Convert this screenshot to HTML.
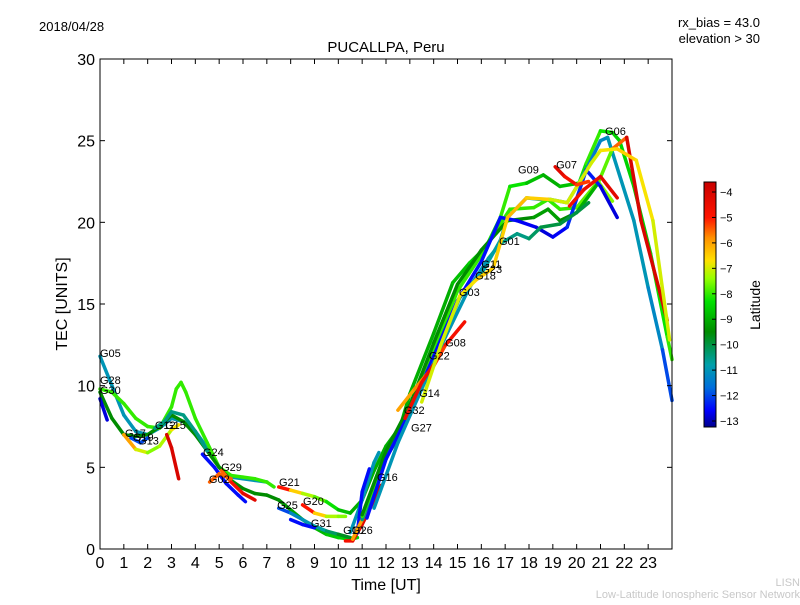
<!DOCTYPE html>
<html><head><meta charset="utf-8"><style>
body{margin:0;background:#fff;width:800px;height:600px;overflow:hidden;font-family:"Liberation Sans",sans-serif}
</style></head><body>
<svg id="chart" width="800" height="600" xmlns="http://www.w3.org/2000/svg" font-family="Liberation Sans, sans-serif">
<defs><linearGradient id="jet" x1="0" y1="1" x2="0" y2="0"></linearGradient></defs>
<text x="39" y="31" font-size="13">2018/04/28</text>
<text x="760" y="27" font-size="13" text-anchor="end">rx_bias = 43.0</text>
<text x="760" y="43" font-size="13" text-anchor="end">elevation &gt; 30</text>
<text x="386" y="52" font-size="15" text-anchor="middle">PUCALLPA, Peru</text>
<g id="tracks"></g>
<g id="labels" font-size="11"></g>
<rect x="100" y="59" width="572" height="490" fill="none" stroke="#000" stroke-width="1"/>
<g id="axes"></g>
<text x="386" y="590" font-size="16" text-anchor="middle">Time [UT]</text>
<text transform="translate(67,304) rotate(-90)" font-size="16" text-anchor="middle">TEC [UNITS]</text>
<rect x="704" y="182" width="12" height="245" fill="url(#jet)" stroke="#000" stroke-width="1"/>
<g id="cbticks" font-size="11"></g>
<text transform="translate(760,305) rotate(-90)" font-size="14" text-anchor="middle">Latitude</text>
<text x="800" y="586" font-size="11" fill="#c8c8c8" text-anchor="end">LISN</text>
<text x="800" y="598" font-size="11" fill="#c8c8c8" text-anchor="end">Low-Latitude Ionospheric Sensor Network</text>
</svg>
<script>
const xTicks=[0,1,2,3,4,5,6,7,8,9,10,11,12,13,14,15,16,17,18,19,20,21,22,23];
const yTicks=[0,5,10,15,20,25,30];
const cbTicks=[-4,-5,-6,-7,-8,-9,-10,-11,-12,-13];
const trackTimes=[
[0,0.5,1,1.5,2,2.5,3,3.5,4,4.5,5,5.5,6,6.5,7],
[0,0.5,1,1.5,2,2.5,3,3.2,3.4,3.6,4,4.5,5,5.5,6,6.5,7,7.3],
[0,0.5,1,1.5,2,2.5,3,3.5,4,4.5,5,5.5,6,6.5,7,7.5,8,8.5,9,9.5,10,10.5,10.8],
[0,0.3],
[1,1.5,2,2.5,3,3.3],
[1.3,1.7,2.0],
[2.3,2.7,3.0,3.5,4,4.5],
[2.8,3.0,3.3],
[4.3,4.8,5.3,5.8,6.1],
[5.1,5.5,6,6.5],
[4.6,5.0,5.5],
[7.5,8,8.5,9,9.5,10,10.5,11,11.5,12,12.6,13,14,14.8,15.5,16.2,16.8,17.2,17.9,18.6,19.3,20.1,20.4,21,21.5,21.8,22.4,23.1,23.8,24],
[8.5,9,9.5,10,10.3],
[7.5,8,8.5,9,9.5,10,10.5],
[8,8.5,9],
[10.3,10.6,11,11.5,11.8],
[10.5,11,11.5,11.7],
[10.8,11,11.3],
[10.6,11,11.5],
[11,12,12.6,13,14,15.1,16.1,16.8,17.1,17.9,18.5,18.9,19.6,20.1,20.5,21,21.3,22.4,23,23.6,24],
[11,12,13,14,15,16,16.8,17.2,18.2,18.8,19.3,20,20.9,21.5],
[11,12,13,14,15,16,17.1,18.2,18.8,19.3,20,20.9,21.5,22.1,22.7,23.8],
[11.2,12,13,14,15,16,16.8,17.5,18.3,19,19.6,20.4,21,21.7],
[11.5,12.5,13.5,14.5,15.5,16.3,16.8,17.5,18,18.5,19.3,20,20.5],
[12.5,13.2,14,14.5,15.3],
[12.8,13.5,14],
[13.5,14.3,15.1,15.8,16.5,17.1,17.9,18.9,19.6,20.1,20.6,21,21.7,22.5,23.2,23.9],
[19.1,19.5,20,20.5],
[19.7,20.3,21,21.7]
];
const trackTec=[
[11.8,10,8.2,7.2,7.0,7.4,8.0,7.8,7.2,6.2,5.0,4.4,4.3,4.2,4.1],
[9.8,9.6,8.9,8.0,7.5,7.4,8.7,9.8,10.2,9.6,8.0,6.5,5.0,4.5,4.4,4.3,4.1,3.8],
[9.6,8.0,7.0,6.9,7.0,7.5,8.2,7.8,7.0,6.0,5.0,4.2,3.7,3.4,3.3,3.0,2.4,1.8,1.3,0.9,0.7,0.6,0.7],
[9.2,7.9],
[7.0,6.1,5.9,6.3,7.3,7.6],
[6.8,6.5,6.8],
[7.4,7.8,8.4,8.2,7.2,6.0],
[7.0,6.2,4.3],
[5.8,5.0,4.0,3.3,2.9],
[4.8,4.1,3.4,3.0],
[4.1,4.6,4.3],
[3.8,3.6,3.4,3.2,2.9,2.4,2.2,3.0,4.8,6.3,7.5,9.5,13.2,16.3,17.5,18.5,20.3,22.2,22.4,22.9,22.2,22.4,23.6,25.6,25.5,25.0,22.2,18.1,13.0,11.6],
[2.7,2.2,2.0,2.0,2.0],
[2.5,2.2,1.8,1.4,1.1,0.9,0.7],
[1.8,1.5,1.3],
[0.5,0.5,1.5,3,3.9],
[1,3,5.3,5.9],
[1,3.5,4.9],
[0.6,1.8,3.5],
[1.8,5.6,7.0,8.3,11.6,15.4,17.1,18.9,20.3,21.5,21.4,21.4,21.2,22.4,23.5,25,25.2,20.1,16,12.2,9.1],
[2.0,5.8,8.6,12.2,15.8,18.0,19.9,20.8,20.9,21.4,20.8,20.9,22.5,21.3],
[2.1,6.0,8.8,12.6,16.2,18.3,20.1,20.3,20.8,20.1,20.6,22.4,24.5,25.2,20.1,14.0],
[1.9,5.5,8.4,11.8,15.2,17.6,20.3,20.1,19.7,19.1,19.7,23.2,22.2,20.3],
[2.5,6.5,9.8,13.0,16.0,17.8,18.7,19.3,19.0,19.7,19.9,20.6,21.2],
[8.5,9.8,11.2,12.5,13.9],
[8.0,10.2,11.3],
[9.0,12.5,15.5,16.5,17.2,20.3,21.5,21.4,21.2,22.4,23.6,24.4,24.5,23.8,20.1,12.8],
[23.4,22.8,22.3,22.5],
[21,22,22.8,21.5]
];
const trackLat=[
[-11,-11,-11,-11,-11,-11,-11,-11,-11,-11,-11,-11,-11,-11,-11],
[-8,-8,-8,-8,-8,-8,-8,-8,-8,-8,-8,-8,-8,-8,-8,-8,-8,-8],
[-9.5,-9.5,-9.5,-9.5,-9.5,-9.5,-9.5,-9.5,-9.5,-9.5,-9.5,-9.5,-9.5,-9.5,-9.5,-9.5,-9.3,-9,-9,-8.8,-8.5,-8.5,-8.5],
[-12.8,-12.8],
[-5.5,-6.5,-7.5,-7.5,-7,-6.5],
[-12,-12,-12],
[-10.5,-10.5,-10.5,-10.5,-10.5,-10.5],
[-4,-4,-4],
[-12.5,-12.5,-12.5,-12.5,-12.5],
[-6,-5,-4.5,-4],
[-5.5,-5.5,-5.5],
[-4,-6,-7,-7.5,-8,-8.5,-9,-9,-9,-9,-9,-9,-9,-9,-8.5,-8.5,-8,-8,-8.5,-9,-9,-8.5,-8,-8,-8.5,-8.5,-8.5,-8.5,-8,-8],
[-4,-6,-7,-7.5,-7.5],
[-12.5,-11.5,-11,-11,-10.5,-10,-9.5],
[-12.5,-12.5,-12.5],
[-5,-4.5,-4.5,-4,-4],
[-11,-11,-11,-11],
[-12.5,-12.5,-12.5],
[-6,-6,-6],
[-10.5,-10.5,-10.5,-10.5,-10.5,-10.5,-10.5,-11,-11,-11,-11,-11,-11,-11,-11.5,-11.5,-11,-11,-11,-11.5,-12.5],
[-8,-8,-8,-8,-8,-8,-8,-8,-8,-8,-8,-8,-7.5,-7.5],
[-9.5,-9.5,-9.5,-9.5,-9.5,-9.5,-9.5,-9.5,-9,-9.5,-9.5,-8.5,-7,-4,-4,-4],
[-12.5,-12.5,-12.5,-12.5,-12.5,-12.5,-12.5,-12.5,-12.8,-12.8,-12.5,-12,-12.8,-12.8],
[-11,-11,-11,-11,-11,-11,-10.5,-10.5,-10.5,-10,-10,-10,-10],
[-6,-6,-5.5,-5,-4.5],
[-4.5,-4.5,-4.5],
[-7,-7,-7,-6.5,-6.5,-6.5,-6,-7,-7,-7,-7,-7,-6.5,-6.5,-7,-7],
[-4,-4.5,-5,-5.5],
[-5,-4.5,-4.5,-4]
];
const labelNames=["G05","G28","G30","G17","G19","G13","G12","G15","G24","G29","G02","G21","G25","G20","G31","G10","G26","G16","G27","G32","G14","G22","G08","G03","G18","G23","G11","G01","G09","G07","G06"];
const labelTimes=[0,0,0,1.05,1.38,1.6,2.3,2.73,4.32,5.08,4.57,7.51,7.43,8.52,8.85,10.2,10.57,11.62,13.05,12.75,13.39,13.8,14.48,15.06,15.74,16.0,16.0,16.74,17.54,19.14,21.19];
const labelTec=[11.75,10.1,9.5,6.86,6.6,6.4,7.35,7.35,5.7,4.78,4.04,3.86,2.45,2.7,1.35,0.92,0.92,4.16,7.2,8.27,9.3,11.6,12.4,15.5,16.5,16.9,17.2,18.6,23.0,23.3,25.35];

const NS="http://www.w3.org/2000/svg";
const X0=100,X1=672,Y0=549,Y1=59;
function xs(t){return X0+t*(X1-X0)/24;}
function ys(v){return Y0-v*(Y0-Y1)/30;}
const LMIN=-13.25,LMAX=-3.6;
const cmap=[[-13.25,[0,0,140]],[-12.6,[0,0,255]],[-11.7,[0,110,220]],[-10.8,[0,160,170]],[-9.5,[0,140,0]],[-8.3,[0,225,0]],[-7.4,[150,255,0]],[-6.7,[255,225,0]],[-5.8,[255,145,0]],[-5.0,[255,20,0]],[-3.6,[200,0,0]]];
function jet(lat){
 if(lat<=cmap[0][0])return `rgb(${cmap[0][1].join(',')})`;
 for(let i=0;i<cmap.length-1;i++){const a=cmap[i],b=cmap[i+1];
  if(lat<=b[0]){const f=(lat-a[0])/(b[0]-a[0]);const c=a[1].map((v,k)=>Math.round(v+(b[1][k]-v)*f));return `rgb(${c.join(',')})`;}}
 return `rgb(${cmap[cmap.length-1][1].join(',')})`;}
const grad=document.getElementById('jet');
cmap.forEach(s=>{const st=document.createElementNS(NS,'stop');st.setAttribute('offset',(s[0]-LMIN)/(LMAX-LMIN));st.setAttribute('stop-color',`rgb(${s[1].join(',')})`);grad.appendChild(st);});
const tg=document.getElementById('tracks');
for(let i=0;i<trackTimes.length;i++){
 const T=trackTimes[i],V=trackTec[i],L=trackLat[i];
 for(let j=0;j<T.length-1;j++){
  const ln=document.createElementNS(NS,'line');
  
  
  ln.setAttribute('x1',xs(T[j]));ln.setAttribute('y1',ys(V[j]));
  ln.setAttribute('x2',xs(T[j+1]));ln.setAttribute('y2',ys(V[j+1]));
  ln.setAttribute('stroke',jet((L[j]+L[j+1])/2));
  ln.setAttribute('stroke-width','3.5');ln.setAttribute('stroke-linecap','round');
  tg.appendChild(ln);
 }
}
const lg=document.getElementById('labels');
for(let i=0;i<labelNames.length;i++){
 const t=document.createElementNS(NS,'text');
 
 
 t.setAttribute('x',xs(labelTimes[i]));t.setAttribute('y',ys(labelTec[i]));
 t.textContent=labelNames[i];lg.appendChild(t);
}
const ag=document.getElementById('axes');
xTicks.forEach(v=>{
 const x=xs(v);
 [[Y0,Y0-5],[Y1,Y1+5]].forEach(p=>{const l=document.createElementNS(NS,'line');
  
  
  l.setAttribute('x1',x);l.setAttribute('x2',x);l.setAttribute('y1',p[0]);l.setAttribute('y2',p[1]);l.setAttribute('stroke','#000');ag.appendChild(l);});
 const t=document.createElementNS(NS,'text');
 
 
 t.setAttribute('x',x);t.setAttribute('y',568);t.setAttribute('font-size','16');t.setAttribute('text-anchor','middle');t.textContent=v;ag.appendChild(t);
});
yTicks.forEach(v=>{
 const y=ys(v);
 [[X0,X0+5],[X1,X1-5]].forEach(p=>{const l=document.createElementNS(NS,'line');
  
  
  l.setAttribute('x1',p[0]);l.setAttribute('x2',p[1]);l.setAttribute('y1',y);l.setAttribute('y2',y);l.setAttribute('stroke','#000');ag.appendChild(l);});
 const t=document.createElementNS(NS,'text');
 
 
 t.setAttribute('x',95);t.setAttribute('y',y+6);t.setAttribute('font-size','16');t.setAttribute('text-anchor','end');t.textContent=v;ag.appendChild(t);
});
const cg=document.getElementById('cbticks');
cbTicks.forEach(v=>{
 const y=192+(-4-v)*(421-192)/9;
 const l=document.createElementNS(NS,'line');
 
 
 l.setAttribute('x1',712);l.setAttribute('x2',716);l.setAttribute('y1',y);l.setAttribute('y2',y);l.setAttribute('stroke','#000');cg.appendChild(l);
 const t=document.createElementNS(NS,'text');
 
 
 t.setAttribute('x',720);t.setAttribute('y',y+4);t.textContent='\u2212'+Math.abs(v);cg.appendChild(t);
});
</script>
</body></html>
